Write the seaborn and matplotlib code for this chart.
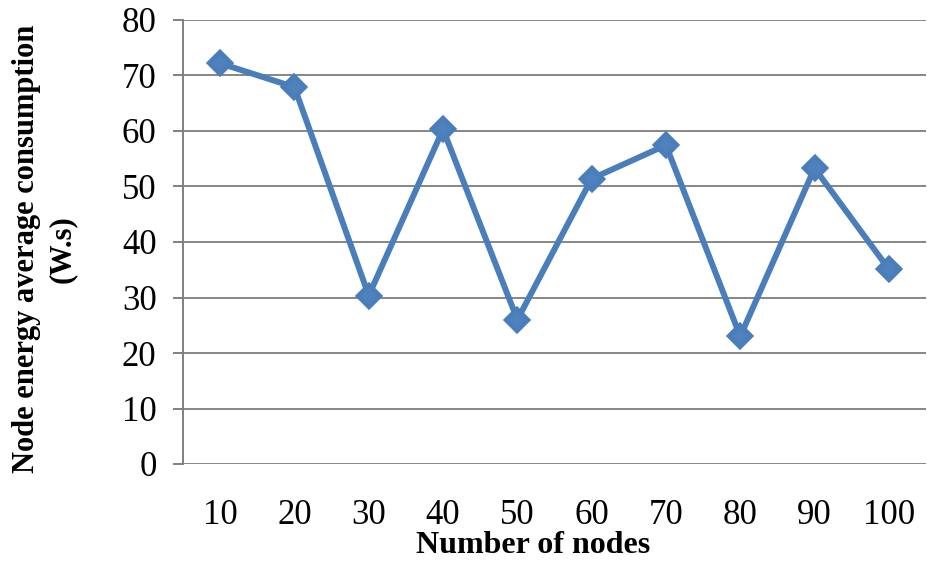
import matplotlib
matplotlib.use("Agg")
import matplotlib.pyplot as plt
import seaborn as sns
import pandas as pd

nodes = ["10", "20", "30", "40", "50", "60", "70", "80", "90", "100"]
consumption = [72.2, 67.9, 30.35, 60.3, 26.0, 51.4, 57.45, 23.0, 53.3, 35.1]
y_ticks = [0, 10, 20, 30, 40, 50, 60, 70, 80]

df = pd.DataFrame({"nodes": nodes, "consumption": consumption})

sns.set_theme(style="white")
plt.rcParams["font.family"] = ["Liberation Serif", "DejaVu Serif"]

fig = plt.figure(figsize=(9.27, 5.63), dpi=100)
ax = fig.add_axes([183/927, 99/563, 743/927, 444/563])

sns.pointplot(data=df, x="nodes", y="consumption", ax=ax, color="#4a7ebb",
              markers="D", linestyles="-", linewidth=4.3, markersize=11,
              errorbar=None)
for line in ax.lines:
    line.set_markerfacecolor("#4f81bd")
    line.set_markeredgecolor("#4a7ebb")
    line.set_zorder(3)

ax.set_ylim(0, 80)
ax.set_xlim(-0.5, 9.5)
ax.set_yticks(y_ticks)
ax.set_yticklabels([str(v) for v in y_ticks])
ax.grid(axis="y", color="#868686", linewidth=1.4)
ax.set_axisbelow(True)
for s in ["top", "right", "bottom"]:
    ax.spines[s].set_visible(False)
ax.spines["left"].set_color("#808080")
ax.spines["left"].set_linewidth(1.4)

ax.tick_params(axis="y", length=7, width=1.4, color="#808080", pad=12,
               labelsize=25, labelcolor="black", left=True)
ax.tick_params(axis="x", length=0, pad=25, labelsize=25, labelcolor="black")

ax.set_xlabel("Number of nodes", fontsize=23, fontweight="bold", color="black")
ax.xaxis.set_label_coords(350/743, -67/444)
ax.set_ylabel("Node energy average consumption\n(W.s)", fontsize=22,
              fontweight="bold", color="black", multialignment="center",
              linespacing=1.3)
ax.yaxis.set_label_coords(-106/743, 0.485)

fig.savefig("out.png", dpi=100)
